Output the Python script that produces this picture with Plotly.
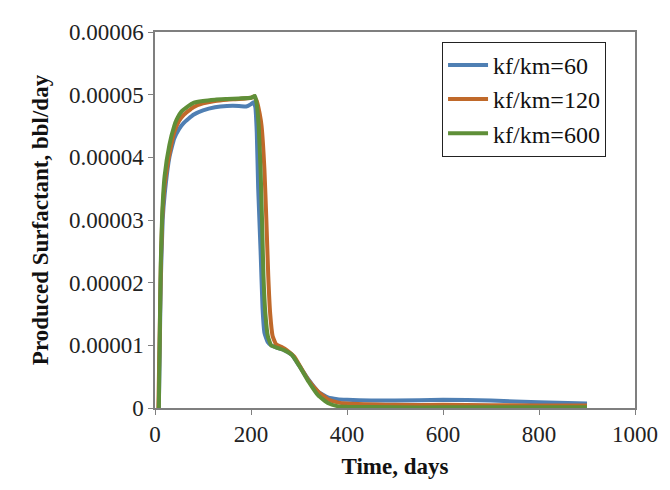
import plotly.graph_objects as go

# Produced surfactant vs time for three fracture/matrix permeability ratios
series_names = ["kf/km=60", "kf/km=120", "kf/km=600"]

days_60 = [8, 10, 12, 16, 20, 30, 40, 50, 60, 80, 100, 125, 150, 175, 190, 200, 205,
           209, 212, 215, 220, 224, 228, 235, 242, 255, 270, 285, 300, 320, 340, 360,
           380, 400, 450, 500, 600, 700, 800, 900]
surf_60 = [0, 1.0, 2.0, 3.0, 3.4, 4.0, 4.3, 4.45, 4.55, 4.68, 4.75, 4.8, 4.82, 4.82, 4.81,
           4.85, 4.88, 4.8, 4.4, 3.5, 2.5, 1.6, 1.2, 1.05, 1.0, 0.96, 0.92, 0.85, 0.68,
           0.45, 0.26, 0.17, 0.14, 0.13, 0.12, 0.12, 0.13, 0.12, 0.09, 0.07]

days_120 = [7, 10, 12, 15, 20, 30, 40, 50, 60, 80, 100, 125, 150, 175, 200, 206, 212,
            218, 222, 228, 232, 236, 240, 245, 252, 262, 275, 290, 305, 320, 340, 360,
            380, 400, 500, 600, 800, 900]
surf_120 = [0, 1.3, 2.2, 3.0, 3.55, 4.05, 4.4, 4.58, 4.68, 4.8, 4.86, 4.9, 4.92, 4.93,
            4.95, 4.97, 4.9, 4.7, 4.5, 3.8, 3.0, 2.1, 1.5, 1.15, 1.02, 0.98, 0.92, 0.82,
            0.63, 0.44, 0.26, 0.14, 0.09, 0.07, 0.05, 0.05, 0.04, 0.04]

days_600 = [8, 10, 12, 15, 20, 30, 40, 45, 55, 70, 80, 100, 125, 150, 175, 200, 208,
            212, 216, 220, 223, 226, 230, 235, 242, 255, 270, 285, 300, 320, 340, 360,
            380, 400, 500, 600, 900]
surf_600 = [0, 1.2, 2.3, 3.1, 3.7, 4.2, 4.5, 4.6, 4.73, 4.82, 4.87, 4.9, 4.92, 4.93,
            4.94, 4.95, 4.98, 4.85, 4.5, 3.8, 3.0, 2.1, 1.5, 1.15, 1.0, 0.96, 0.92, 0.85,
            0.68, 0.42, 0.2, 0.08, 0.03, 0.02, 0.01, 0.01, 0.01]

x_ticks = [0, 200, 400, 600, 800, 1000]
y_ticks = [0, 0.00001, 0.00002, 0.00003, 0.00004, 0.00005, 0.00006]
y_tick_labels = ["0", "0.00001", "0.00002", "0.00003", "0.00004", "0.00005", "0.00006"]

colors = ["#4F7FB3", "#C0692A", "#5F8F38"]
all_days = [days_60, days_120, days_600]
all_surf = [surf_60, surf_120, surf_600]

fig = go.Figure()
for name, d, s, c in zip(series_names, all_days, all_surf, colors):
    fig.add_trace(go.Scatter(x=d, y=[v * 1e-5 for v in s], mode="lines", name=name,
                             line=dict(color=c, width=4, shape="spline", smoothing=0.4)))

serif = "Liberation Serif"
# page body adds an 8px offset, so the figure is 8px smaller than the window
fig.update_layout(
    width=662, height=482,
    margin=dict(l=147, r=27, t=12, b=82),
    paper_bgcolor="white", plot_bgcolor="white",
    font=dict(family=serif, size=23, color="#222222"),
    legend=dict(x=0.598, y=0.974, xanchor="left", yanchor="top",
                bgcolor="white", bordercolor="#222222", borderwidth=1,
                itemwidth=40,
                font=dict(family=serif, size=24, color="#111111")),
)
fig.update_xaxes(range=[0, 1000], tickvals=x_ticks, ticks="outside", ticklen=5,
                 tickcolor="#7f7f7f", showline=True, linecolor="#7f7f7f", linewidth=1.5,
                 mirror=True, showgrid=False, zeroline=False,
                 title=dict(text="<b>Time, days</b>", standoff=12,
                            font=dict(family=serif, size=23, color="#111111")))
fig.update_yaxes(range=[0, 0.00006], tickvals=y_ticks, ticktext=y_tick_labels,
                 ticks="outside", ticklen=5, tickcolor="#7f7f7f", showline=True,
                 linecolor="#7f7f7f", linewidth=1.5, mirror=True, showgrid=False,
                 zeroline=False,
                 title=dict(text="<b>Produced Surfactant, bbl/day</b>", standoff=14,
                            font=dict(family=serif, size=23, color="#111111")))

fig.write_html("out.html")
